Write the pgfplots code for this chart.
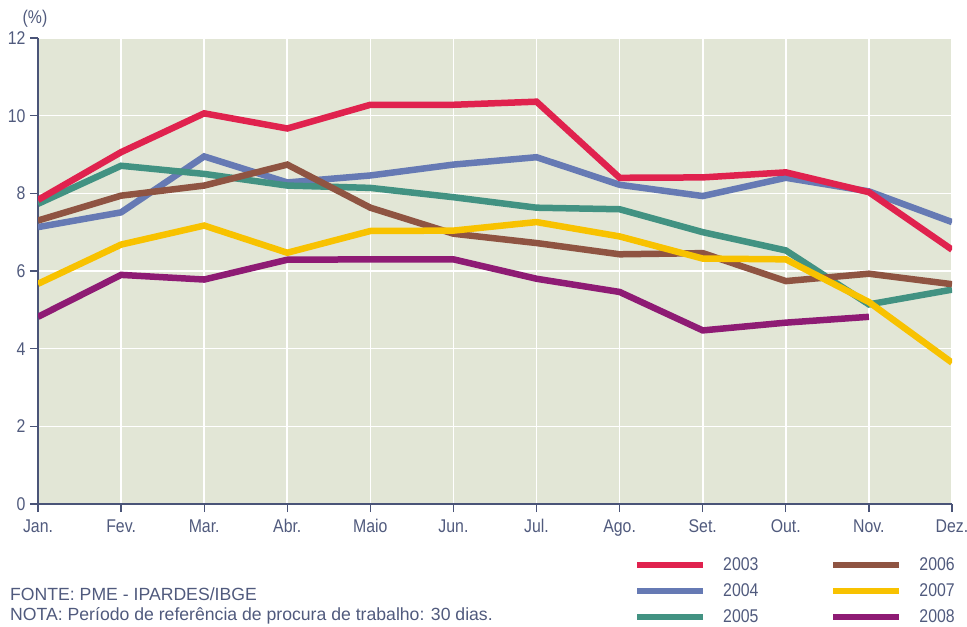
\documentclass[border=0pt]{standalone}
\usepackage{pgfplots}
\pgfplotsset{compat=1.18}
\usepackage{fontspec}
\setmainfont{Liberation Sans}
\newfontfamily\narrow[FakeStretch=0.86]{Liberation Sans}
\definecolor{c2003}{RGB}{224,34,78}
\definecolor{c2004}{RGB}{102,122,180}
\definecolor{c2005}{RGB}{66,146,130}
\definecolor{c2006}{RGB}{143,84,66}
\definecolor{c2007}{RGB}{248,194,0}
\definecolor{c2008}{RGB}{142,27,116}
\definecolor{bgc}{RGB}{226,230,214}
\definecolor{axcol}{RGB}{74,84,120}
\definecolor{txtcol}{RGB}{80,90,125}
\begin{document}
\begin{tikzpicture}
\path[use as bounding box] (-38bp,-123bp) rectangle (929bp,504bp);
\begin{axis}[
  at={(0,0)}, anchor=south west,
  scale only axis, width=914bp, height=466bp,
  xmin=0, xmax=11, ymin=0, ymax=12,
  xtick={0,...,11},
  xticklabels={Jan.,Fev.,Mar.,Abr.,Maio,Jun.,Jul.,Ago.,Set.,Out.,Nov.,Dez.},
  ytick={0,2,...,12},
  /pgf/number format/assume math mode=true,
  axis background/.style={fill=bgc},
  grid=major, major grid style={white, line width=1.6bp},
  axis x line*=bottom, axis y line*=left,
  axis line style={axcol, line width=1.8bp},
  tick style={axcol, line width=1.3bp},
  tick align=outside, major tick length=8bp,
  tick label style={font=\narrow\fontsize{18.5}{20}\selectfont, text=txtcol},
  xticklabel style={yshift=-4bp},
  yticklabel style={xshift=-1bp},
  legend cell align=left,
  legend columns=2,
  legend image code/.code={\draw[line width=6bp] (0bp,0bp) -- (66bp,0bp);},
  legend style={draw=none, fill=none, at={(rel axis cs:0.6488,-0.107)}, anchor=north west,
    font=\narrow\fontsize{18.5}{20}\selectfont, text=txtcol,
    row sep=7.5bp,
    /tikz/every odd column/.append style={column sep=15bp},
    /tikz/every even column/.append style={column sep=70bp}},
  every axis plot/.append style={line width=6.5bp},
]
\addplot[c2004, forget plot] coordinates {(0,7.13) (1,7.51) (2,8.95) (3,8.28) (4,8.46) (5,8.74) (6,8.93) (7,8.22) (8,7.93) (9,8.40) (10,8.05) (11,7.26)};
\addplot[c2005, forget plot] coordinates {(0,7.73) (1,8.71) (2,8.50) (3,8.20) (4,8.14) (5,7.90) (6,7.63) (7,7.59) (8,7.00) (9,6.53) (10,5.14) (11,5.52)};
\addplot[c2006, forget plot] coordinates {(0,7.30) (1,7.94) (2,8.20) (3,8.74) (4,7.63) (5,6.96) (6,6.72) (7,6.43) (8,6.46) (9,5.74) (10,5.93) (11,5.66)};
\addplot[c2007, forget plot] coordinates {(0,5.67) (1,6.68) (2,7.17) (3,6.47) (4,7.03) (5,7.04) (6,7.26) (7,6.89) (8,6.32) (9,6.30) (10,5.20) (11,3.64)};
\addplot[c2008, forget plot] coordinates {(0,4.82) (1,5.90) (2,5.78) (3,6.29) (4,6.30) (5,6.30) (6,5.80) (7,5.46) (8,4.47) (9,4.67) (10,4.82)};
\addplot[c2003, forget plot] coordinates {(0,7.83) (1,9.06) (2,10.06) (3,9.67) (4,10.28) (5,10.28) (6,10.36) (7,8.40) (8,8.41) (9,8.54) (10,8.03) (11,6.55)};
\addlegendimage{c2003}\addlegendentry{2003}
\addlegendimage{c2006}\addlegendentry{2006}
\addlegendimage{c2004}\addlegendentry{2004}
\addlegendimage{c2007}\addlegendentry{2007}
\addlegendimage{c2005}\addlegendentry{2005}
\addlegendimage{c2008}\addlegendentry{2008}
\end{axis}
\node[anchor=center, font=\narrow\fontsize{18.5}{20}\selectfont, text=txtcol] at (-3bp,485bp) {(\%)};
\node[anchor=base west, font=\fontsize{17.7}{19}\selectfont, text=txtcol, inner sep=0] at (-28bp,-96bp) {FONTE: PME - IPARDES/IBGE};
\node[anchor=base west, font=\fontsize{17.7}{19}\selectfont, text=txtcol, inner sep=0] at (-28bp,-116bp) {NOTA: Período de referência de procura de trabalho: 30 dias.};
\end{tikzpicture}
\end{document}
